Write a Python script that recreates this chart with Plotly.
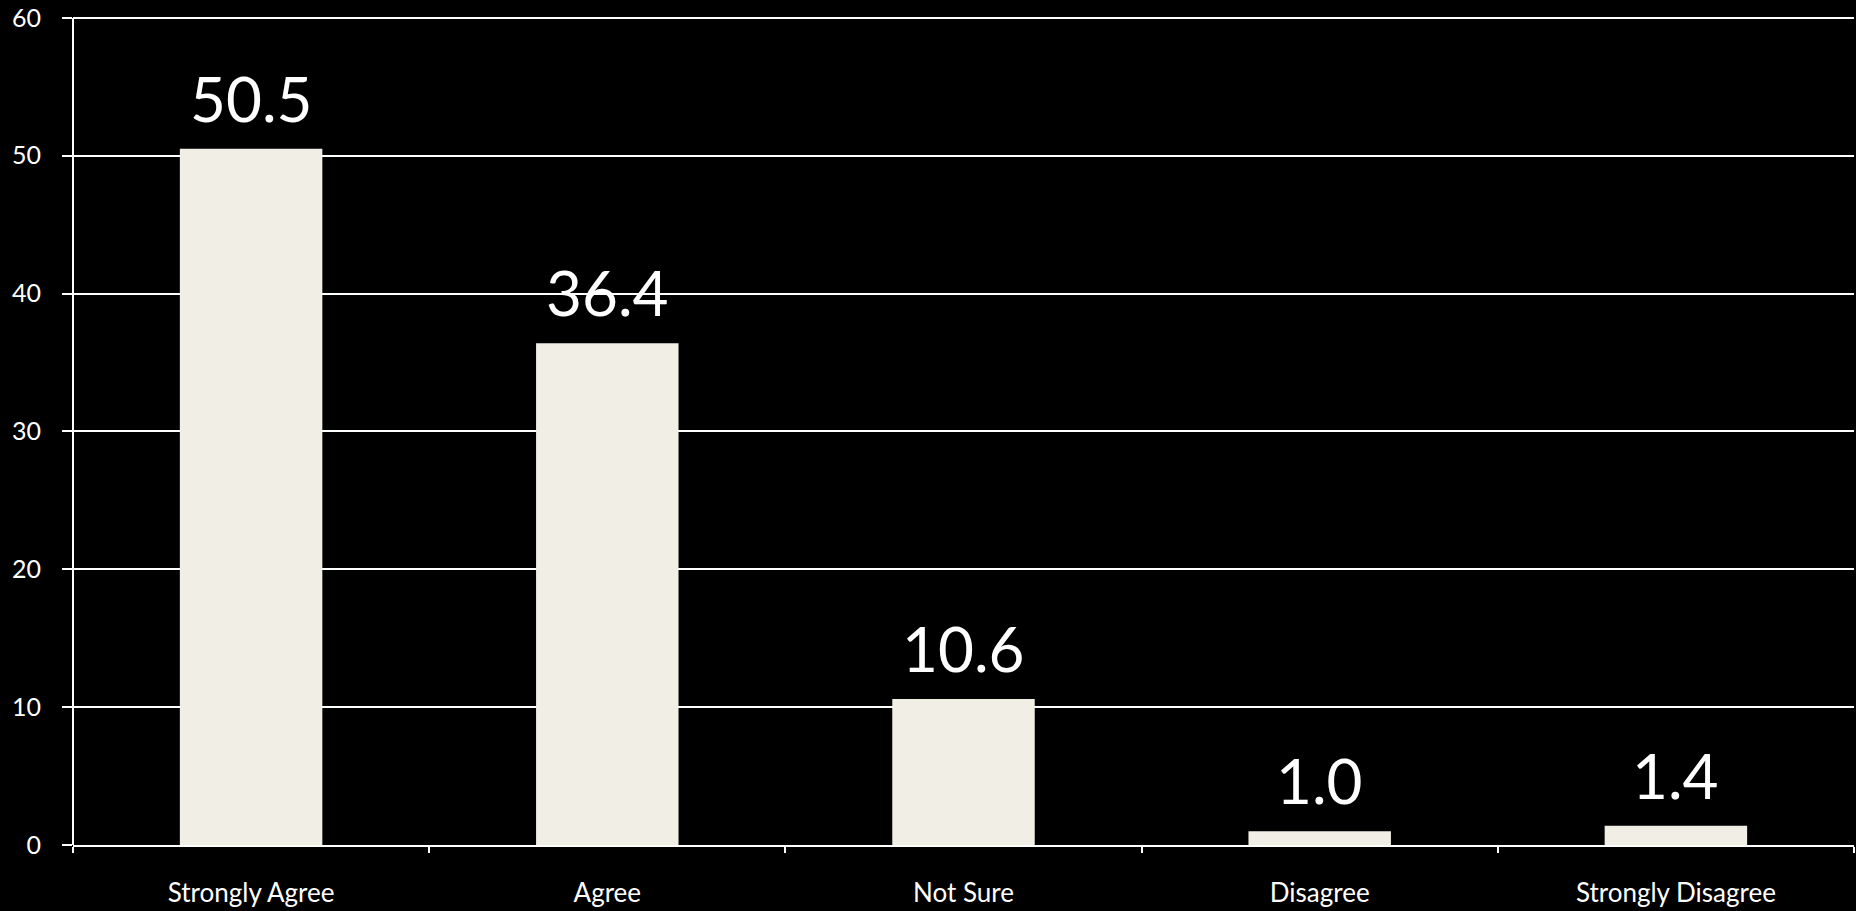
import plotly.graph_objects as go

categories = ["Strongly Agree", "Agree", "Not Sure", "Disagree", "Strongly Disagree"]
values = [50.5, 36.4, 10.6, 1.0, 1.4]
value_labels = ["50.5", "36.4", "10.6", "1.0", "1.4"]
y_ticks = [0, 10, 20, 30, 40, 50, 60]

FONT = "Lato, 'Open Sans', sans-serif"

fig = go.Figure()
fig.add_trace(go.Bar(
    x=categories, y=values,
    marker=dict(color="#F1EEE6", line=dict(width=0)),
    hoverinfo="x+y",
))

for c, v, t in zip(categories, values, value_labels):
    fig.add_annotation(x=c, y=v, text=t, showarrow=False, yanchor="bottom",
                       yshift=12, font=dict(family=FONT, size=62, color="white"))

# vertical axis line spanning only the tick range
fig.add_shape(type="line", xref="paper", yref="y", x0=0, x1=0,
              y0=y_ticks[0], y1=y_ticks[-1], line=dict(color="white", width=2))

fig.update_layout(
    width=1856, height=911,
    paper_bgcolor="black", plot_bgcolor="black",
    margin=dict(l=73, r=2, t=8, b=66),
    bargap=0.6,
    showlegend=False,
    font=dict(family=FONT, color="white", size=24),
    xaxis=dict(
        showline=True, linecolor="white", linewidth=2,
        ticks="outside", tickson="boundaries", ticklen=6, tickwidth=2, tickcolor="white",
        showgrid=False,
        tickfont=dict(family=FONT, size=26, color="white"),
        ticklabelstandoff=24,
    ),
    yaxis=dict(
        range=[0, 60.5], tickvals=y_ticks,
        showline=False,
        ticks="outside", ticklen=10, tickwidth=2, tickcolor="white",
        showgrid=True, gridcolor="white", gridwidth=2,
        zeroline=False,
        tickfont=dict(family=FONT, size=25, color="white"),
        ticklabelstandoff=16,
        ticklabeloverflow="allow",
    ),
)

fig.write_html("out.html")
